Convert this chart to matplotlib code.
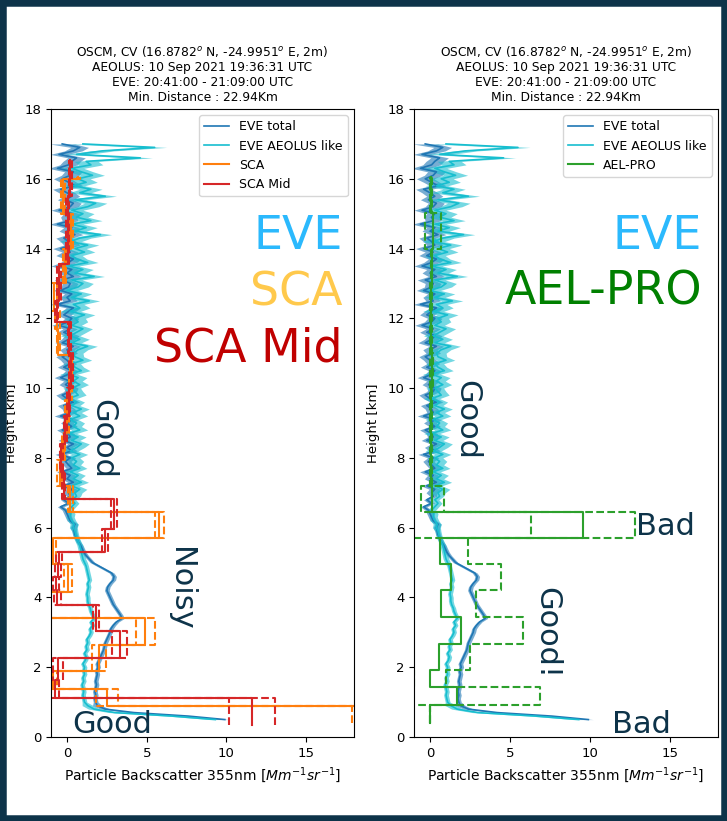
"""
EVE vs AEOLUS backscatter profiles, OSCM Cape Verde 10 Sep 2021
"""

import numpy as np
import matplotlib
matplotlib.use("Agg")
import matplotlib.pyplot as plt
from matplotlib.patches import Rectangle

# EVE profiles on a 0.1 km grid (0.5 -> 17.0 km)
height = np.round(np.arange(0.5, 17.05, 0.1), 2)

eve_total = [
    9.9, 7.6, 4.2, 2.4, 1.9,
    1.8, 1.75, 1.8, 1.75, 1.8, 1.85, 1.8, 1.85, 1.9, 1.85,
    1.95, 1.9, 2.0, 2.1, 2.2, 2.3, 2.35, 2.4, 2.5, 2.6,
    2.7, 2.75, 2.9, 3.1, 3.45, 3.35, 3.2, 3.05, 2.9, 2.8,
    2.7, 2.6, 2.5, 2.55, 2.7, 2.9, 2.95, 2.8, 2.4, 2.0,
    1.6, 1.4, 1.2, 1.05, 0.95, 0.85, 0.7, 0.6, 0.5, 0.45,
    0.4, 0.5, 0.2, 0.1, 0.0, -0.1, -0.4, 0.1, -0.2, 0.2,
    0.1, 0.3, -0.2, 0.4, 0.0, 0.2, -0.3, 0.3, 0.1, -0.1,
    0.2, -0.4, 0.3, 0.0, 0.4, -0.2, 0.2, 0.1, -0.3, 0.3,
    0.0, 0.3, -0.4, 0.2, 0.1, -0.2, 0.4, 0.0, -0.3, 0.2,
    0.3, -0.1, 0.2, -0.4, 0.1, 0.3, -0.2, 0.2, 0.0, -0.3,
    0.2, 0.0, 0.4, -0.3, 0.1, 0.3, -0.2, 0.2, -0.5, 0.1,
    0.3, -0.2, 0.1, 0.4, -0.6, 0.2, 0.0, 0.3, -0.4, 0.1,
    0.2, -0.3, 0.4, 0.0, 0.3, -0.5, 0.1, 0.4, -0.2, 0.2,
    -0.4, 0.3, 0.1, -0.2, 0.5, 0.0, 0.3, -0.6, 0.2, 0.1,
    0.3, -0.5, 0.2, 0.4, -0.1, 0.3, 0.0, -0.4, 0.5, 0.1,
    -0.3, 0.2, 0.4, -0.6, 0.1, 0.3, 0.6, -0.5, 0.4, 0.8,
    -0.3,
]

eve_aeolus = [
    9.3, 6.6, 3.0, 1.7, 1.3,
    1.1, 1.05, 1.0, 1.05, 1.0, 0.95, 1.05, 1.0, 1.1, 1.05,
    1.1, 1.0, 1.15, 1.2, 1.1, 1.25, 1.2, 1.3, 1.25, 1.4,
    1.5, 1.45, 1.6, 1.5, 1.7, 1.6, 1.5, 1.45, 1.35, 1.3,
    1.3, 1.25, 1.3, 1.35, 1.3, 1.4, 1.35, 1.3, 1.25, 1.2,
    1.1, 1.0, 0.95, 0.9, 0.85, 0.8, 0.7, 0.6, 0.55, 0.5,
    0.4, 0.45, 0.3, 0.2, 0.25, 0.1, 0.3, 0.5, 0.3, 0.6,
    0.5, 0.8, 0.3, 0.9, 0.4, 0.7, 0.2, 0.8, 0.4, 0.6,
    0.3, 0.8, 0.2, 0.6, 0.9, 0.3, 0.7, 0.1, 0.8, 0.4,
    0.6, 0.2, 0.8, 0.4, 0.9, 0.3, 0.6, 0.1, 0.7, 0.5,
    0.3, 0.8, 0.4, 0.7, 0.1, 0.9, 0.5, 0.3, 1.0, 0.5,
    0.4, 0.7, 1.3, 0.3, 0.8, 0.2, 0.6, 1.0, 0.3, 0.7,
    0.5, 1.1, 0.2, 0.8, 0.4, 1.4, 0.3, 0.9, 0.0, 0.7,
    1.0, 0.3, 1.7, 0.5, 1.0, 0.1, 1.3, 0.6, 0.3, 1.1,
    0.5, 1.3, 0.2, 0.8, 2.1, 0.5, 1.2, 0.3, 1.5, 0.6,
    1.0, 0.3, 1.3, 1.8, 0.5, 2.4, 0.8, 1.5, 0.4, 1.2,
    0.7, 1.6, 0.9, 0.3, 1.5, 1.2, 4.6, 0.6, 2.2, 5.5,
    1.0,
]

# uncertainty per 1 km layer (index = floor of height)
eve_total_err_layer = [0.3, 0.15, 0.15, 0.15, 0.15, 0.15, 0.2, 0.35, 0.35, 0.4,
                       0.4, 0.45, 0.45, 0.5, 0.5, 0.5, 0.55, 0.8]
eve_aeolus_err_layer = [0.35, 0.15, 0.15, 0.15, 0.15, 0.18, 0.25, 0.45, 0.5, 0.5,
                        0.55, 0.6, 0.65, 0.65, 0.7, 0.7, 0.75, 1.0]

# AEOLUS SCA (bin bounds in km, values, errors)
sca_bounds = [0.41, 0.89, 1.38, 1.90, 2.65, 3.42, 4.17, 4.95, 5.70, 6.45, 7.20, 7.95,
              8.70, 9.65, 10.40, 10.95, 11.70, 12.20, 13.00, 14.00, 15.00, 16.00, 16.05]
sca_vals = [22.0, 2.5, -0.9, 2.0, 4.9, -1.6, 0.05, -0.85, 5.8, 0.2, -0.45, -0.2,
            0.0, 0.2, 0.3, -0.55, -0.6, -0.8, -0.15, 0.25, -0.25, 0.7]
sca_err = [4.1, 0.7, 0.25, 0.45, 0.6, 0.3, 0.25, 0.15, 0.3, 0.15, 0.15, 0.1,
           0.1, 0.1, 0.1, 0.1, 0.15, 0.2, 0.1, 0.15, 0.1, 0.1]

# AEOLUS SCA mid-bin
scamid_bounds = [0.35, 1.13, 1.62, 2.27, 3.03, 3.78, 4.20, 4.60, 5.00, 5.30, 5.95,
                 6.82, 7.60, 8.40, 9.20, 10.00, 11.00, 11.90, 12.50, 13.55, 15.50, 16.55]
scamid_vals = [11.6, -0.75, -0.55, 3.3, 1.8, -0.6, -0.7, -0.55, -0.5, 2.4, 2.95,
               -0.2, -0.35, -0.1, 0.1, 0.25, 0.15, -0.65, -0.5, 0.05, 0.2]
scamid_err = [1.45, 0.25, 0.3, 0.45, 0.2, 0.2, 0.2, 0.2, 0.2, 0.2, 0.2,
              0.1, 0.1, 0.1, 0.1, 0.1, 0.1, 0.1, 0.1, 0.1, 0.1]

# AEL-PRO
aelpro_bounds = [0.40, 0.92, 1.42, 1.93, 2.68, 3.44, 4.20, 4.96, 5.70, 6.45, 7.20,
                 8.0, 9.0, 10.0, 11.0, 12.0, 13.0, 14.0, 15.02, 16.05]
aelpro_vals = [0.0, 1.7, 0.0, 0.55, 1.95, 0.7, 1.3, 0.6, 9.55, 0.15, 0.05,
               0.05, 0.05, 0.1, 0.05, 0.05, 0.1, 0.2, 0.05]
aelpro_err = [0.0, 5.2, 1.0, 1.95, 3.85, 2.2, 3.15, 1.8, 3.25, 0.7, 0.05,
              0.05, 0.05, 0.1, 0.05, 0.05, 0.05, 0.5, 0.05]

title = ("OSCM, CV (16.8782$^o$ N, -24.9951$^o$ E, 2m)\n"
         "AEOLUS: 10 Sep 2021 19:36:31 UTC\n"
         "EVE: 20:41:00 - 21:09:00 UTC\n"
         "Min. Distance : 22.94Km")
navy = '#0d3349'


def step_profile(bounds, vals):
    bounds = np.asarray(bounds)
    x = np.repeat(np.asarray(vals), 2)
    y = np.column_stack([bounds[:-1], bounds[1:]]).ravel()
    return x, y


def draw_panel(ax, products):
    layer = np.floor(height).astype(int)
    tot = np.asarray(eve_total)
    tot_err = np.asarray(eve_total_err_layer)[layer]
    aeo = np.asarray(eve_aeolus)
    aeo_err = np.asarray(eve_aeolus_err_layer)[layer]

    ax.fill_betweenx(height, tot - tot_err, tot + tot_err, color='tab:blue', alpha=0.6, lw=0)
    ax.plot(tot, height, color='tab:blue', lw=1.2, label='EVE total')
    ax.fill_betweenx(height, aeo - aeo_err, aeo + aeo_err, color='tab:cyan', alpha=0.6, lw=0)
    ax.plot(aeo, height, color='tab:cyan', lw=1.2, label='EVE AEOLUS like')

    for name, color, b, v, e in products:
        x, y = step_profile(b, v)
        ax.plot(x, y, color=color, lw=1.5, label=name)
        for sgn in (-1, 1):
            x, y = step_profile(b, np.asarray(v) + sgn * np.asarray(e))
            ax.plot(x, y, color=color, lw=1.5, ls='--')

    ax.set_xlim(-1, 18)
    ax.set_ylim(0, 18)
    ax.set_xticks([0, 5, 10, 15])
    ax.set_yticks(range(0, 19, 2))
    ax.tick_params(labelsize=9.5)
    ax.set_title(title, fontsize=8.8)
    ax.set_xlabel('Particle Backscatter 355nm [$Mm^{-1}sr^{-1}$]', fontsize=10)
    ax.set_ylabel('Height [km]', fontsize=9.5)
    ax.legend(loc='upper right', fontsize=9)


fig = plt.figure(figsize=(7.27, 8.21), dpi=100)
ax1 = fig.add_axes([0.0702, 0.1023, 0.4168, 0.7649])
ax2 = fig.add_axes([0.5695, 0.1023, 0.418, 0.7649])

draw_panel(ax1, [('SCA', 'tab:orange', sca_bounds, sca_vals, sca_err),
                 ('SCA Mid', 'tab:red', scamid_bounds, scamid_vals, scamid_err)])
draw_panel(ax2, [('AEL-PRO', 'tab:green', aelpro_bounds, aelpro_vals, aelpro_err)])

ax1.yaxis.set_label_coords(-0.11, 0.5)
ax2.yaxis.set_label_coords(-0.112, 0.5)

# big labels
ax1.text(17.3, 14.0, 'EVE', color='#2bb9fd', fontsize=33, ha='right', va='baseline')
ax1.text(17.3, 12.38, 'SCA', color='#ffc94c', fontsize=33, ha='right', va='baseline')
ax1.text(17.3, 10.75, 'SCA Mid', color='#c00000', fontsize=33, ha='right', va='baseline')
ax2.text(17.0, 14.0, 'EVE', color='#2bb9fd', fontsize=33, ha='right', va='baseline')
ax2.text(17.0, 12.4, 'AEL-PRO', color='#008000', fontsize=33, ha='right', va='baseline')

# quality notes
ax1.text(2.22, 8.54, 'Good', color=navy, fontsize=22, rotation=270, ha='center', va='center')
ax1.text(7.1, 4.24, 'Noisy', color=navy, fontsize=22, rotation=270, ha='center', va='center')
ax1.text(0.35, 0.12, 'Good', color=navy, fontsize=22, ha='left', va='baseline')
ax2.text(2.3, 9.08, 'Good', color=navy, fontsize=22, rotation=270, ha='center', va='center')
ax2.text(7.3, 2.98, 'Good!', color=navy, fontsize=22, rotation=270, ha='center', va='center')
ax2.text(12.9, 5.79, 'Bad', color=navy, fontsize=22, ha='left', va='baseline')
ax2.text(11.35, 0.11, 'Bad', color=navy, fontsize=22, ha='left', va='baseline')

# dark frame around the figure
fig.patches.append(Rectangle((0, 0), 1, 1, transform=fig.transFigure, fill=False,
                             ec=navy, lw=9))

fig.savefig('out.png', dpi=100)
